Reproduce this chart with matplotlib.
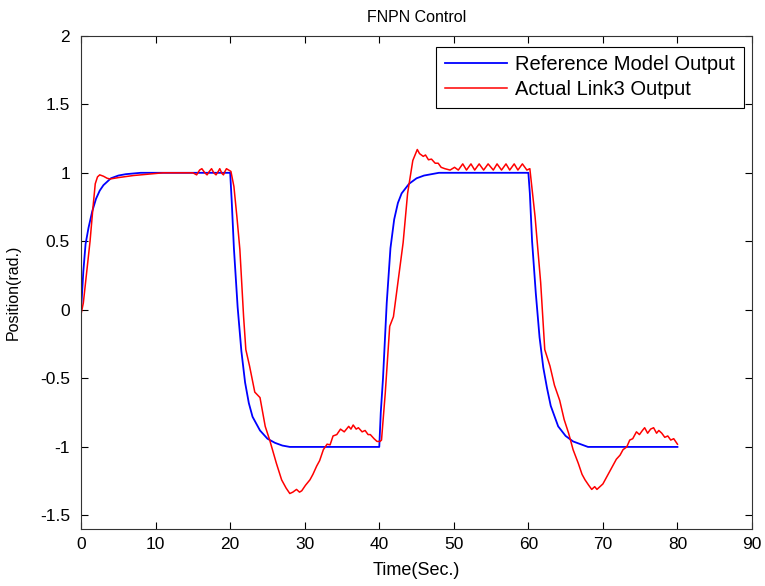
import matplotlib
matplotlib.use("Agg")
import matplotlib.pyplot as plt

# values
t_ref = [0, 0.3, 0.6, 1.0, 1.5, 2.0, 2.5, 3.0, 4.0, 5.0, 6.0, 8.0, 20.0,
         20.2, 20.5, 21.0, 21.5, 22.0, 22.5, 23.0, 24.0, 25.0, 26.0, 27.0, 28.0, 40.0,
         40.2, 40.5, 41.0, 41.5, 42.0, 42.5, 43.0, 44.0, 45.0, 46.0, 47.0, 48.0, 60.0,
         60.2, 60.5, 61.0, 61.5, 62.0, 62.5, 63.0, 64.0, 65.0, 66.0, 67.0, 68.0, 80.0]
y_ref = [0, 0.28, 0.48, 0.6, 0.72, 0.81, 0.87, 0.91, 0.96, 0.98, 0.99, 1.0, 1.0,
         0.8, 0.45, 0.02, -0.3, -0.53, -0.68, -0.78, -0.88, -0.94, -0.97, -0.99, -1.0, -1.0,
         -0.75, -0.5, 0.05, 0.45, 0.66, 0.78, 0.85, 0.92, 0.96, 0.98, 0.99, 1.0, 1.0,
         0.85, 0.5, 0.12, -0.2, -0.42, -0.57, -0.7, -0.85, -0.92, -0.96, -0.98, -1.0, -1.0]

t_act = [0, 0.3, 0.7, 1.2, 1.6, 1.9, 2.2, 2.5, 3.0, 3.5, 3.9, 5, 7, 9, 11, 13, 15,
         15.5, 15.9, 16.2, 16.6, 16.9, 17.2, 17.5, 17.8, 18.1, 18.4, 18.6, 18.9, 19.1,
         19.3, 19.5, 19.8, 20.1,
         20.5, 20.9, 21.3, 21.8, 22.1, 22.6, 23.3, 24.0, 24.7, 25.3, 26.2, 26.9, 27.5,
         28.0, 28.4, 28.9, 29.3, 29.6, 30.1, 30.7, 31.1, 31.6, 32.0, 32.5, 33.0, 33.4,
         33.8, 34.3, 34.8, 35.3, 35.9, 36.2, 36.5, 36.9, 37.2, 37.7, 38.1, 38.5, 38.8,
         39.3, 39.7, 40.1,
         40.3, 40.8, 41.4, 41.9, 42.6, 43.2, 43.8, 44.5, 45.1, 45.4, 45.9, 46.2, 46.6,
         47.0, 47.5, 47.9, 48.3, 48.8, 49.5, 50.1, 50.6, 51.2, 51.7, 52.3, 52.8, 53.4,
         54.0, 54.6, 55.3, 55.8, 56.4, 57.0, 57.5, 58.1, 58.6, 59.2, 59.8, 60.2,
         60.9, 61.65, 62.2, 62.9, 63.5, 64.2, 64.8, 65.4, 66.0, 66.7, 67.2, 67.6, 68.1,
         68.5, 68.9, 69.2, 69.6, 70.0, 70.5, 71.0, 71.4, 71.8, 72.3, 72.7, 73.2, 73.6,
         74.0, 74.5, 74.9, 75.3, 75.6, 76.0, 76.4, 76.8, 77.2, 77.5, 77.9, 78.3, 78.7,
         79.1, 79.5, 80.0]
y_act = [-0.03, 0.05, 0.25, 0.5, 0.75, 0.92, 0.97, 0.985, 0.975, 0.96, 0.955, 0.965,
         0.98, 0.99, 1.0, 1.0, 1.0,
         0.985, 1.02, 1.03, 1.0, 0.985, 1.01, 1.03, 1.0, 0.985, 1.01, 1.03, 0.995, 0.985,
         1.01, 1.03, 1.02, 1.01,
         0.9, 0.68, 0.44, -0.05, -0.29, -0.41, -0.6, -0.64, -0.85, -0.95, -1.12, -1.24, -1.3,
         -1.34, -1.33, -1.31, -1.33, -1.32, -1.28, -1.24, -1.2, -1.14, -1.1, -1.02, -0.98, -0.985,
         -0.92, -0.91, -0.87, -0.89, -0.85, -0.87, -0.84, -0.87, -0.86, -0.89, -0.88, -0.91, -0.91,
         -0.94, -0.96, -0.96,
         -0.95, -0.61, -0.12, -0.05, 0.24, 0.49, 0.85, 1.09, 1.17, 1.14, 1.12, 1.13, 1.095,
         1.1, 1.07, 1.07, 1.04, 1.03, 1.02, 1.04, 1.02, 1.065, 1.02, 1.065, 1.02, 1.065,
         1.02, 1.065, 1.02, 1.065, 1.02, 1.065, 1.02, 1.065, 1.02, 1.065, 1.02, 1.03,
         0.68, 0.2, -0.29, -0.41, -0.55, -0.66, -0.8, -0.9, -1.02, -1.12, -1.2, -1.24, -1.28,
         -1.31, -1.29, -1.31, -1.29, -1.27, -1.22, -1.17, -1.13, -1.09, -1.06, -1.02, -1.0, -0.95,
         -0.94, -0.89, -0.91, -0.88, -0.86, -0.9, -0.87, -0.86, -0.9, -0.88, -0.9, -0.93, -0.92,
         -0.95, -0.94, -0.98]

x_ticks = [0, 10, 20, 30, 40, 50, 60, 70, 80, 90]
y_ticks = [-1.5, -1, -0.5, 0, 0.5, 1, 1.5, 2]

plt.rcParams['font.family'] = ['Liberation Sans', 'DejaVu Sans']

fig = plt.figure(figsize=(7.65, 5.86), dpi=100)
ax = fig.add_axes([0.106, 0.097, 0.877, 0.842])

ax.plot(t_ref, y_ref, color='#0000ff', linewidth=1.3, label='Reference Model Output')
ax.plot(t_act, y_act, color='#ff0000', linewidth=1.1, label='Actual Link3 Output')

ax.set_xlim(0, 90)
ax.set_ylim(-1.6, 2)
ax.set_xticks(x_ticks)
ax.set_xticklabels([str(v) for v in x_ticks])
ax.set_yticks(y_ticks)
ax.set_yticklabels([('%g' % v) for v in y_ticks])
ax.tick_params(direction='in', top=True, right=True, length=5, width=0.8, labelsize=12.5)
ax.tick_params(axis='x', pad=6)
ax.tick_params(axis='y', pad=8)
for s in ax.spines.values():
    s.set_color('#333333')
    s.set_linewidth(0.8)

ax.set_title('FNPN Control', fontsize=11.5, pad=10)
ax.set_xlabel('Time(Sec.)', fontsize=13, va='top')
ax.set_ylabel('Position(rad.)', fontsize=11.5)
ax.xaxis.set_label_coords(0.5, -0.066)
ax.yaxis.set_label_coords(-0.09, 0.48)

leg = ax.legend(loc='upper right', bbox_to_anchor=(0.988, 0.978), borderaxespad=0,
                handlelength=3.1, fancybox=False, prop={'size': 14.5},
                edgecolor='black', framealpha=1, labelspacing=0.28,
                handletextpad=0.4, borderpad=0.44)
leg.get_frame().set_linewidth(0.8)

fig.savefig('out.png', dpi=100)
